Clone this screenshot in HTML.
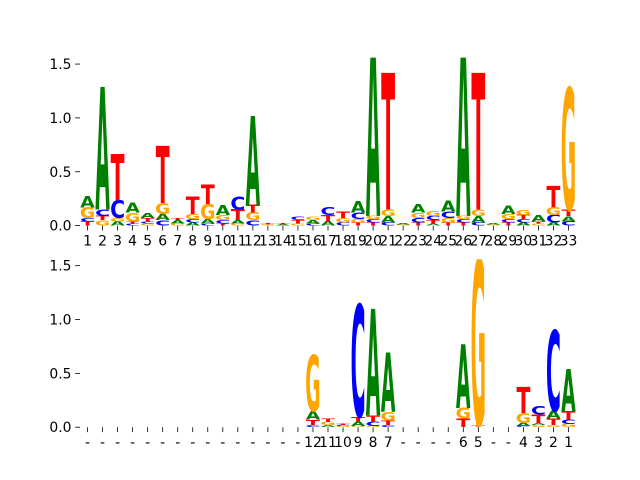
<!DOCTYPE html>
<html><head><meta charset="utf-8"><style>
html,body{margin:0;padding:0;background:#fff}
svg{display:block}
text{font-family:"DejaVu Sans","Liberation Sans",sans-serif}
</style></head><body>
<svg id="chart" width="640" height="480" viewBox="0 0 640 480" xmlns="http://www.w3.org/2000/svg">
<defs>
<clipPath id="clipTop"><rect x="80" y="57.6" width="496" height="168"/></clipPath>
<clipPath id="clipBot"><rect x="80" y="259.2" width="496" height="168"/></clipPath>
</defs>
<g id="top"></g>
<g id="bot"></g>
</svg>
<script>
// Stacks: letters bottom->top with heights (bits)
const topStacks = [
 [["T",.04],["C",.03],["G",.1],["A",.11]],
 [["G",.05],["T",.04],["C",.06],["A",1.14]],
 [["A",.04],["G",.03],["C",.17],["T",.43]],
 [["C",.02],["T",.02],["G",.08],["A",.09]],
 [["G",.02],["C",.02],["T",.03],["A",.05]],
 [["C",.05],["A",.06],["G",.1],["T",.53]],
 [["G",.02],["A",.03],["T",.02]],
 [["A",.03],["C",.03],["G",.05],["T",.16]],
 [["C",.02],["A",.04],["G",.14],["T",.18]],
 [["T",.02],["C",.03],["G",.05],["A",.09]],
 [["G",.02],["A",.03],["T",.1],["C",.12]],
 [["C",.05],["G",.07],["T",.07],["A",.83]],
 [["G",.01],["T",.01]],
 [["A",.01],["T",.01]],
 [["G",.02],["T",.03],["C",.03]],
 [["C",.02],["A",.03],["G",.03]],
 [["A",.04],["T",.06],["C",.07]],
 [["C",.03],["G",.04],["T",.06]],
 [["T",.03],["G",.03],["C",.06],["A",.11]],
 [["T",.03],["C",.03],["G",.03],["A",1.7]],
 [["C",.03],["A",.06],["G",.06],["T",1.27]],
 [["G",.01],["A",.01]],
 [["T",.03],["C",.04],["G",.05],["A",.08]],
 [["A",.02],["T",.03],["C",.04],["G",.05]],
 [["T",.03],["G",.04],["C",.06],["A",.1]],
 [["T",.03],["C",.03],["G",.03],["A",1.7]],
 [["C",.03],["A",.06],["G",.06],["T",1.27]],
 [["G",.01],["A",.01]],
 [["T",.03],["C",.03],["G",.05],["A",.08]],
 [["A",.03],["C",.03],["T",.04],["G",.05]],
 [["G",.02],["T",.02],["A",.06]],
 [["A",.03],["C",.07],["G",.07],["T",.2]],
 [["C",.04],["A",.05],["T",.06],["G",1.13]]
];
const botStacks = [
 [],[],[],[],[],[],[],[],[],[],[],[],[],[],[],
 [["C",.02],["T",.05],["A",.08],["G",.52]],
 [["A",.02],["G",.03],["T",.03]],
 [["G",.01],["C",.01],["T",.01]],
 [["G",.01],["A",.04],["T",.05],["C",1.04]],
 [["G",.01],["C",.04],["T",.06],["A",.99]],
 [["C",.02],["T",.04],["G",.08],["A",.55]],
 [],[],[],[],
 [["T",.08],["G",.1],["A",.59]],
 [["T",.02],["G",1.54]],
 [],[],
 [["C",.01],["A",.03],["G",.09],["T",.24]],
 [["G",.02],["A",.02],["T",.08],["C",.08]],
 [["G",.02],["T",.06],["A",.07],["C",.75]],
 [["G",.03],["C",.04],["T",.08],["A",.39]]
];
const topLabels = Array.from({length:33},(_, i)=>String(i+1));
const botLabels = ["-","-","-","-","-","-","-","-","-","-","-","-","-","-","-","12","11","10","9","8","7","-","-","-","-","6","5","-","-","4","3","2","1"];
const yTicks = [0,0.5,1.0,1.5];
const yTickLabels = ["0.0","0.5","1.0","1.5"];

const NS="http://www.w3.org/2000/svg";
const colors={A:"#008000",C:"#0000ff",G:"#ffa500",T:"#ff0000"};
const inkW={A:.74,C:.68,G:.74,T:.68};
const X0=80,W=496,YMAX=1.56,H=168;
function xs(i){return X0+(i+0.5)*W/33;}
function mk(tag,attrs,parent){const e=document.createElementNS(NS,tag);for(const k in attrs)e.setAttribute(k,attrs[k]);parent.appendChild(e);return e;}

function panel(gid,top,stacks,labels,clip,nm){
  const g=document.getElementById(gid);
  const bottom=top+H;
  const ys=v=>bottom-v/YMAX*H;
  const lg=mk("g",{"clip-path":"url(#"+clip+")"},g);
  
  
  const lw=W/33*0.92;
  stacks.forEach((st,i)=>{
    let acc=0;
    st.forEach(([L,h])=>{
      const y0=ys(acc), y1=ys(acc+h); acc+=h;
      const hp=y0-y1; if(hp<=0)return;
      const sx=lw/(inkW[L]*100), sy=hp/73;
      const t=mk("text",{transform:`translate(${xs(i)},${y0}) scale(${sx},${sy})`,"text-anchor":"middle","font-size":"100","font-weight":"bold",fill:colors[L]},lg);
      t.textContent=L;
      
      
    });
  });
  yTicks.forEach((v,k)=>{
    const y=ys(v);
    const tk=mk("line",{x1:75.1,x2:80,y1:y,y2:y,stroke:"#000","stroke-width":0.8},g);
    
    
    const tl=mk("text",{x:71.5,y:y+5,"text-anchor":"end","font-size":"13.9",fill:"#000"},g);
    tl.textContent=yTickLabels[k];
    
    
  });
  labels.forEach((s,i)=>{
    const x=xs(i);
    const tk=mk("line",{x1:x,x2:x,y1:bottom,y2:bottom+4.9,stroke:"#000","stroke-width":0.8},g);
    
    
    const tl=mk("text",{x:x,y:bottom+20,"text-anchor":"middle","font-size":"13.9",fill:"#000"},g);
    tl.textContent=s;
    
    
  });
}
panel("top",57.6,topStacks,topLabels,"clipTop","top");
panel("bot",259.2,botStacks,botLabels,"clipBot","bottom");
</script>
</body></html>
